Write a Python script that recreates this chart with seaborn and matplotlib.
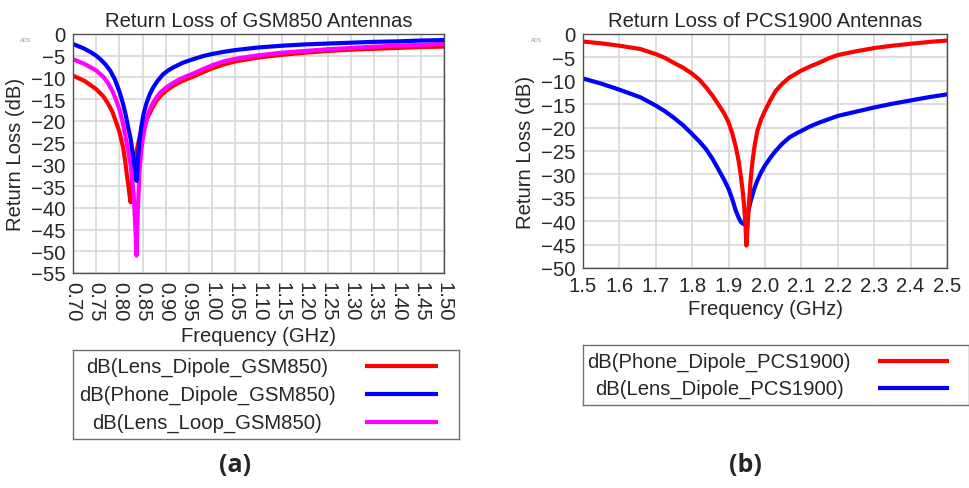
import matplotlib
matplotlib.use("Agg")
import matplotlib.pyplot as plt
from matplotlib.ticker import MultipleLocator, FormatStrFormatter
import seaborn as sns

sns.set_style("white")
plt.rcParams['font.family'] = ['Liberation Sans', 'DejaVu Sans']

# ---------------- data: GSM850 ----------------
gsm_red_x = [0.700, 0.725, 0.750, 0.765, 0.775, 0.785, 0.793, 0.800, 0.808, 0.812, 0.816, 0.820,
             0.824, 0.828, 0.835, 0.845, 0.858, 0.870, 0.880, 0.890, 0.901, 0.915, 0.930, 0.945,
             0.959, 0.980, 1.000, 1.025, 1.050, 1.100, 1.150, 1.200, 1.250, 1.300, 1.350, 1.400,
             1.450, 1.500]
gsm_red_y = [-9.6, -10.8, -12.7, -14.3, -15.9, -17.9, -20.3, -22.5, -26.1, -28.8, -32.2, -35.5,
             -38.7, -33.0, -28.0, -23.0, -19.9, -17.2, -15.4, -14.1, -13.0, -12.0, -11.1, -10.4,
             -9.8, -8.8, -7.9, -7.0, -6.3, -5.4, -4.8, -4.3, -3.9, -3.6, -3.4, -3.2,
             -3.0, -2.9]

gsm_blue_x = [0.700, 0.725, 0.740, 0.750, 0.760, 0.770, 0.780, 0.790, 0.800, 0.808, 0.814, 0.819,
              0.824, 0.828, 0.833, 0.837, 0.840, 0.843, 0.847, 0.852, 0.858, 0.865, 0.873, 0.883,
              0.894, 0.905, 0.916, 0.937, 0.959, 0.980, 1.000, 1.025, 1.050, 1.100, 1.150, 1.200,
              1.250, 1.300, 1.350, 1.400, 1.450, 1.500]
gsm_blue_y = [-2.3, -3.4, -4.3, -5.0, -5.9, -7.0, -8.4, -10.4, -13.2, -16.1, -18.8, -21.5,
              -24.0, -26.8, -30.5, -33.8, -29.0, -25.0, -21.5, -18.5, -16.1, -14.0, -12.3, -10.7,
              -9.3, -8.4, -7.7, -6.6, -5.8, -5.1, -4.6, -4.1, -3.7, -3.1, -2.7, -2.4,
              -2.2, -2.0, -1.8, -1.7, -1.5, -1.4]

gsm_mag_x = [0.700, 0.725, 0.750, 0.765, 0.775, 0.785, 0.793, 0.800, 0.808, 0.813, 0.819, 0.824,
             0.828, 0.831, 0.833, 0.835, 0.837, 0.840, 0.844, 0.847, 0.851, 0.856, 0.862, 0.870,
             0.880, 0.890, 0.901, 0.915, 0.930, 0.945, 0.959, 0.980, 1.000, 1.025, 1.050, 1.100,
             1.150, 1.200, 1.250, 1.300, 1.350, 1.400, 1.450, 1.500]
gsm_mag_y = [-5.8, -6.9, -8.4, -9.8, -11.2, -13.1, -15.2, -17.3, -20.7, -23.5, -26.8, -30.0,
             -33.8, -37.5, -41.4, -46.0, -51.0, -40.0, -30.7, -27.0, -23.8, -21.0, -18.4, -16.3,
             -14.6, -13.3, -12.3, -11.3, -10.4, -9.7, -9.1, -8.1, -7.2, -6.3, -5.7, -4.9,
             -4.3, -3.9, -3.5, -3.2, -2.9, -2.7, -2.5, -2.3]

# ---------------- data: PCS1900 ----------------
pcs_red_x = [1.50, 1.55, 1.60, 1.657, 1.70, 1.725, 1.748, 1.775, 1.80, 1.82, 1.838, 1.856,
             1.874, 1.888, 1.90, 1.91, 1.92, 1.928, 1.934, 1.939, 1.943, 1.946, 1.949, 1.953,
             1.957, 1.961, 1.966, 1.972, 1.979, 1.989, 2.00, 2.015, 2.03, 2.048, 2.067, 2.085,
             2.10, 2.125, 2.15, 2.175, 2.20, 2.25, 2.30, 2.35, 2.40, 2.45, 2.50]
pcs_red_y = [-1.6, -2.0, -2.5, -3.2, -4.3, -5.1, -6.1, -7.2, -8.5, -9.8, -11.4, -13.2,
             -15.3, -17.0, -18.9, -21.2, -24.2, -27.3, -30.6, -33.8, -37.0, -40.5, -45.2, -40.0,
             -34.9, -30.7, -27.0, -23.6, -20.7, -18.3, -16.4, -14.1, -12.1, -10.6, -9.3, -8.5,
             -7.8, -6.9, -6.1, -5.2, -4.5, -3.7, -3.0, -2.5, -2.1, -1.7, -1.4]

pcs_blue_x = [1.50, 1.55, 1.60, 1.657, 1.70, 1.725, 1.748, 1.775, 1.80, 1.82, 1.838, 1.856,
              1.874, 1.888, 1.90, 1.91, 1.92, 1.928, 1.934, 1.941, 1.945, 1.949, 1.955, 1.961,
              1.97, 1.979, 1.989, 2.00, 2.015, 2.03, 2.048, 2.067, 2.085, 2.10, 2.125, 2.15,
              2.175, 2.20, 2.25, 2.30, 2.35, 2.40, 2.45, 2.50]
pcs_blue_y = [-9.5, -10.6, -11.9, -13.5, -15.3, -16.5, -17.8, -19.5, -21.4, -23.0, -24.6, -26.7,
              -29.2, -31.2, -33.1, -35.3, -37.8, -39.3, -40.2, -40.6, -40.3, -39.5, -37.6, -35.6,
              -33.2, -31.3, -29.6, -28.1, -26.4, -24.9, -23.4, -22.1, -21.3, -20.7, -19.7, -18.9,
              -18.2, -17.5, -16.6, -15.7, -14.9, -14.2, -13.5, -12.9]

gsm_labels = ["dB(Lens_Dipole_GSM850)", "dB(Phone_Dipole_GSM850)", "dB(Lens_Loop_GSM850)"]
pcs_labels = ["dB(Phone_Dipole_PCS1900)", "dB(Lens_Dipole_PCS1900)"]
gsm_xticks = [0.70, 0.75, 0.80, 0.85, 0.90, 0.95, 1.00, 1.05, 1.10, 1.15, 1.20, 1.25, 1.30,
              1.35, 1.40, 1.45, 1.50]
pcs_xticks = [1.5, 1.6, 1.7, 1.8, 1.9, 2.0, 2.1, 2.2, 2.3, 2.4, 2.5]

RED = "#ff0000"
BLUE = "#0000ff"
MAG = "#ff00ff"
FS = 14.6
LW = 3.0

W, H = 969, 489
fig = plt.figure(figsize=(W / 100, H / 100), dpi=100)
fig.patch.set_facecolor("white")


def px_axes(x0, y0, x1, y1):
    return fig.add_axes([x0 / W, 1 - y1 / H, (x1 - x0) / W, (y1 - y0) / H])


def style_axes(ax):
    for s in ax.spines.values():
        s.set_color("#505050")
        s.set_linewidth(1.0)
    ax.grid(True, color="#d4d4d4", linewidth=1.1)
    ax.set_axisbelow(True)
    ax.tick_params(axis="both", direction="out", length=3.5, width=0.8, color="#404040",
                   labelsize=FS, pad=2)
    ax.tick_params(axis="x", which="minor", direction="out", length=2, width=0.6, color="#404040")


# ---------- left plot ----------
axL = px_axes(73, 35, 444, 274)
sns.lineplot(x=gsm_red_x, y=gsm_red_y, ax=axL, color=RED, linewidth=LW, estimator=None, sort=False)
sns.lineplot(x=gsm_mag_x, y=gsm_mag_y, ax=axL, color=MAG, linewidth=LW, estimator=None, sort=False)
sns.lineplot(x=gsm_blue_x, y=gsm_blue_y, ax=axL, color=BLUE, linewidth=LW, estimator=None, sort=False)
axL.set_xlim(0.70, 1.50)
axL.set_ylim(-55, 0)
axL.set_xticks(gsm_xticks)
axL.xaxis.set_major_formatter(FormatStrFormatter("%.2f"))
axL.yaxis.set_major_locator(MultipleLocator(5))
style_axes(axL)
for lab in axL.get_xticklabels():
    lab.set_rotation(-90)
axL.set_title("Return Loss of GSM850 Antennas", fontsize=FS, pad=6)
axL.set_xlabel("Frequency (GHz)", fontsize=FS, labelpad=4)
axL.set_ylabel("Return Loss (dB)", fontsize=FS, labelpad=4)

# ---------- right plot ----------
axR = px_axes(583, 35, 947, 269)
sns.lineplot(x=pcs_blue_x, y=pcs_blue_y, ax=axR, color=BLUE, linewidth=LW, estimator=None, sort=False)
sns.lineplot(x=pcs_red_x, y=pcs_red_y, ax=axR, color=RED, linewidth=LW, estimator=None, sort=False)
axR.set_xlim(1.5, 2.5)
axR.set_ylim(-50, 0)
axR.set_xticks(pcs_xticks)
axR.xaxis.set_major_formatter(FormatStrFormatter("%.1f"))
axR.xaxis.set_minor_locator(MultipleLocator(0.02))
axR.yaxis.set_major_locator(MultipleLocator(5))
style_axes(axR)
axR.set_title("Return Loss of PCS1900 Antennas", fontsize=FS, pad=6)
axR.set_xlabel("Frequency (GHz)", fontsize=FS, labelpad=3)
axR.set_ylabel("Return Loss (dB)", fontsize=FS, labelpad=4)

# small "ADS" marks
fig.text(26 / W, 1 - 40 / H, "ADS", fontsize=4, color="#999999", ha="center", va="center")
fig.text(537 / W, 1 - 40 / H, "ADS", fontsize=4, color="#999999", ha="center", va="center")


# ---------- legends (custom boxes) ----------
def legend_box(x0, y0, x1, y1, labels, colors, rows_y, text_cx, line_x0, line_x1):
    lax = px_axes(x0, y0, x1, y1)
    lax.set_xlim(x0, x1)
    lax.set_ylim(y1, y0)
    lax.set_xticks([])
    lax.set_yticks([])
    lax.set_facecolor("white")
    for s in lax.spines.values():
        s.set_color("#707070")
        s.set_linewidth(1.0)
        s.set_visible(True)
    for lab, c, ry in zip(labels, colors, rows_y):
        lax.text(text_cx, ry, lab, fontsize=FS, ha="center", va="center")
        lax.plot([line_x0, line_x1], [ry, ry], color=c, linewidth=LW, solid_capstyle="butt")
    return lax


legend_box(73, 351, 459, 440, gsm_labels, [RED, BLUE, MAG], [367, 395, 423], 207, 365, 438)
legend_box(583, 346, 969, 406, pcs_labels, [RED, BLUE], [362, 389], 719, 878, 949)

fig.text(235 / W, 1 - 466 / H, "(a)", fontsize=18, fontweight="bold",
         family=["Open Sans", "DejaVu Sans"], ha="center", va="center")
fig.text(745 / W, 1 - 466 / H, "(b)", fontsize=18, fontweight="bold",
         family=["Open Sans", "DejaVu Sans"], ha="center", va="center")

fig.savefig("out.png", dpi=100, facecolor="white")
